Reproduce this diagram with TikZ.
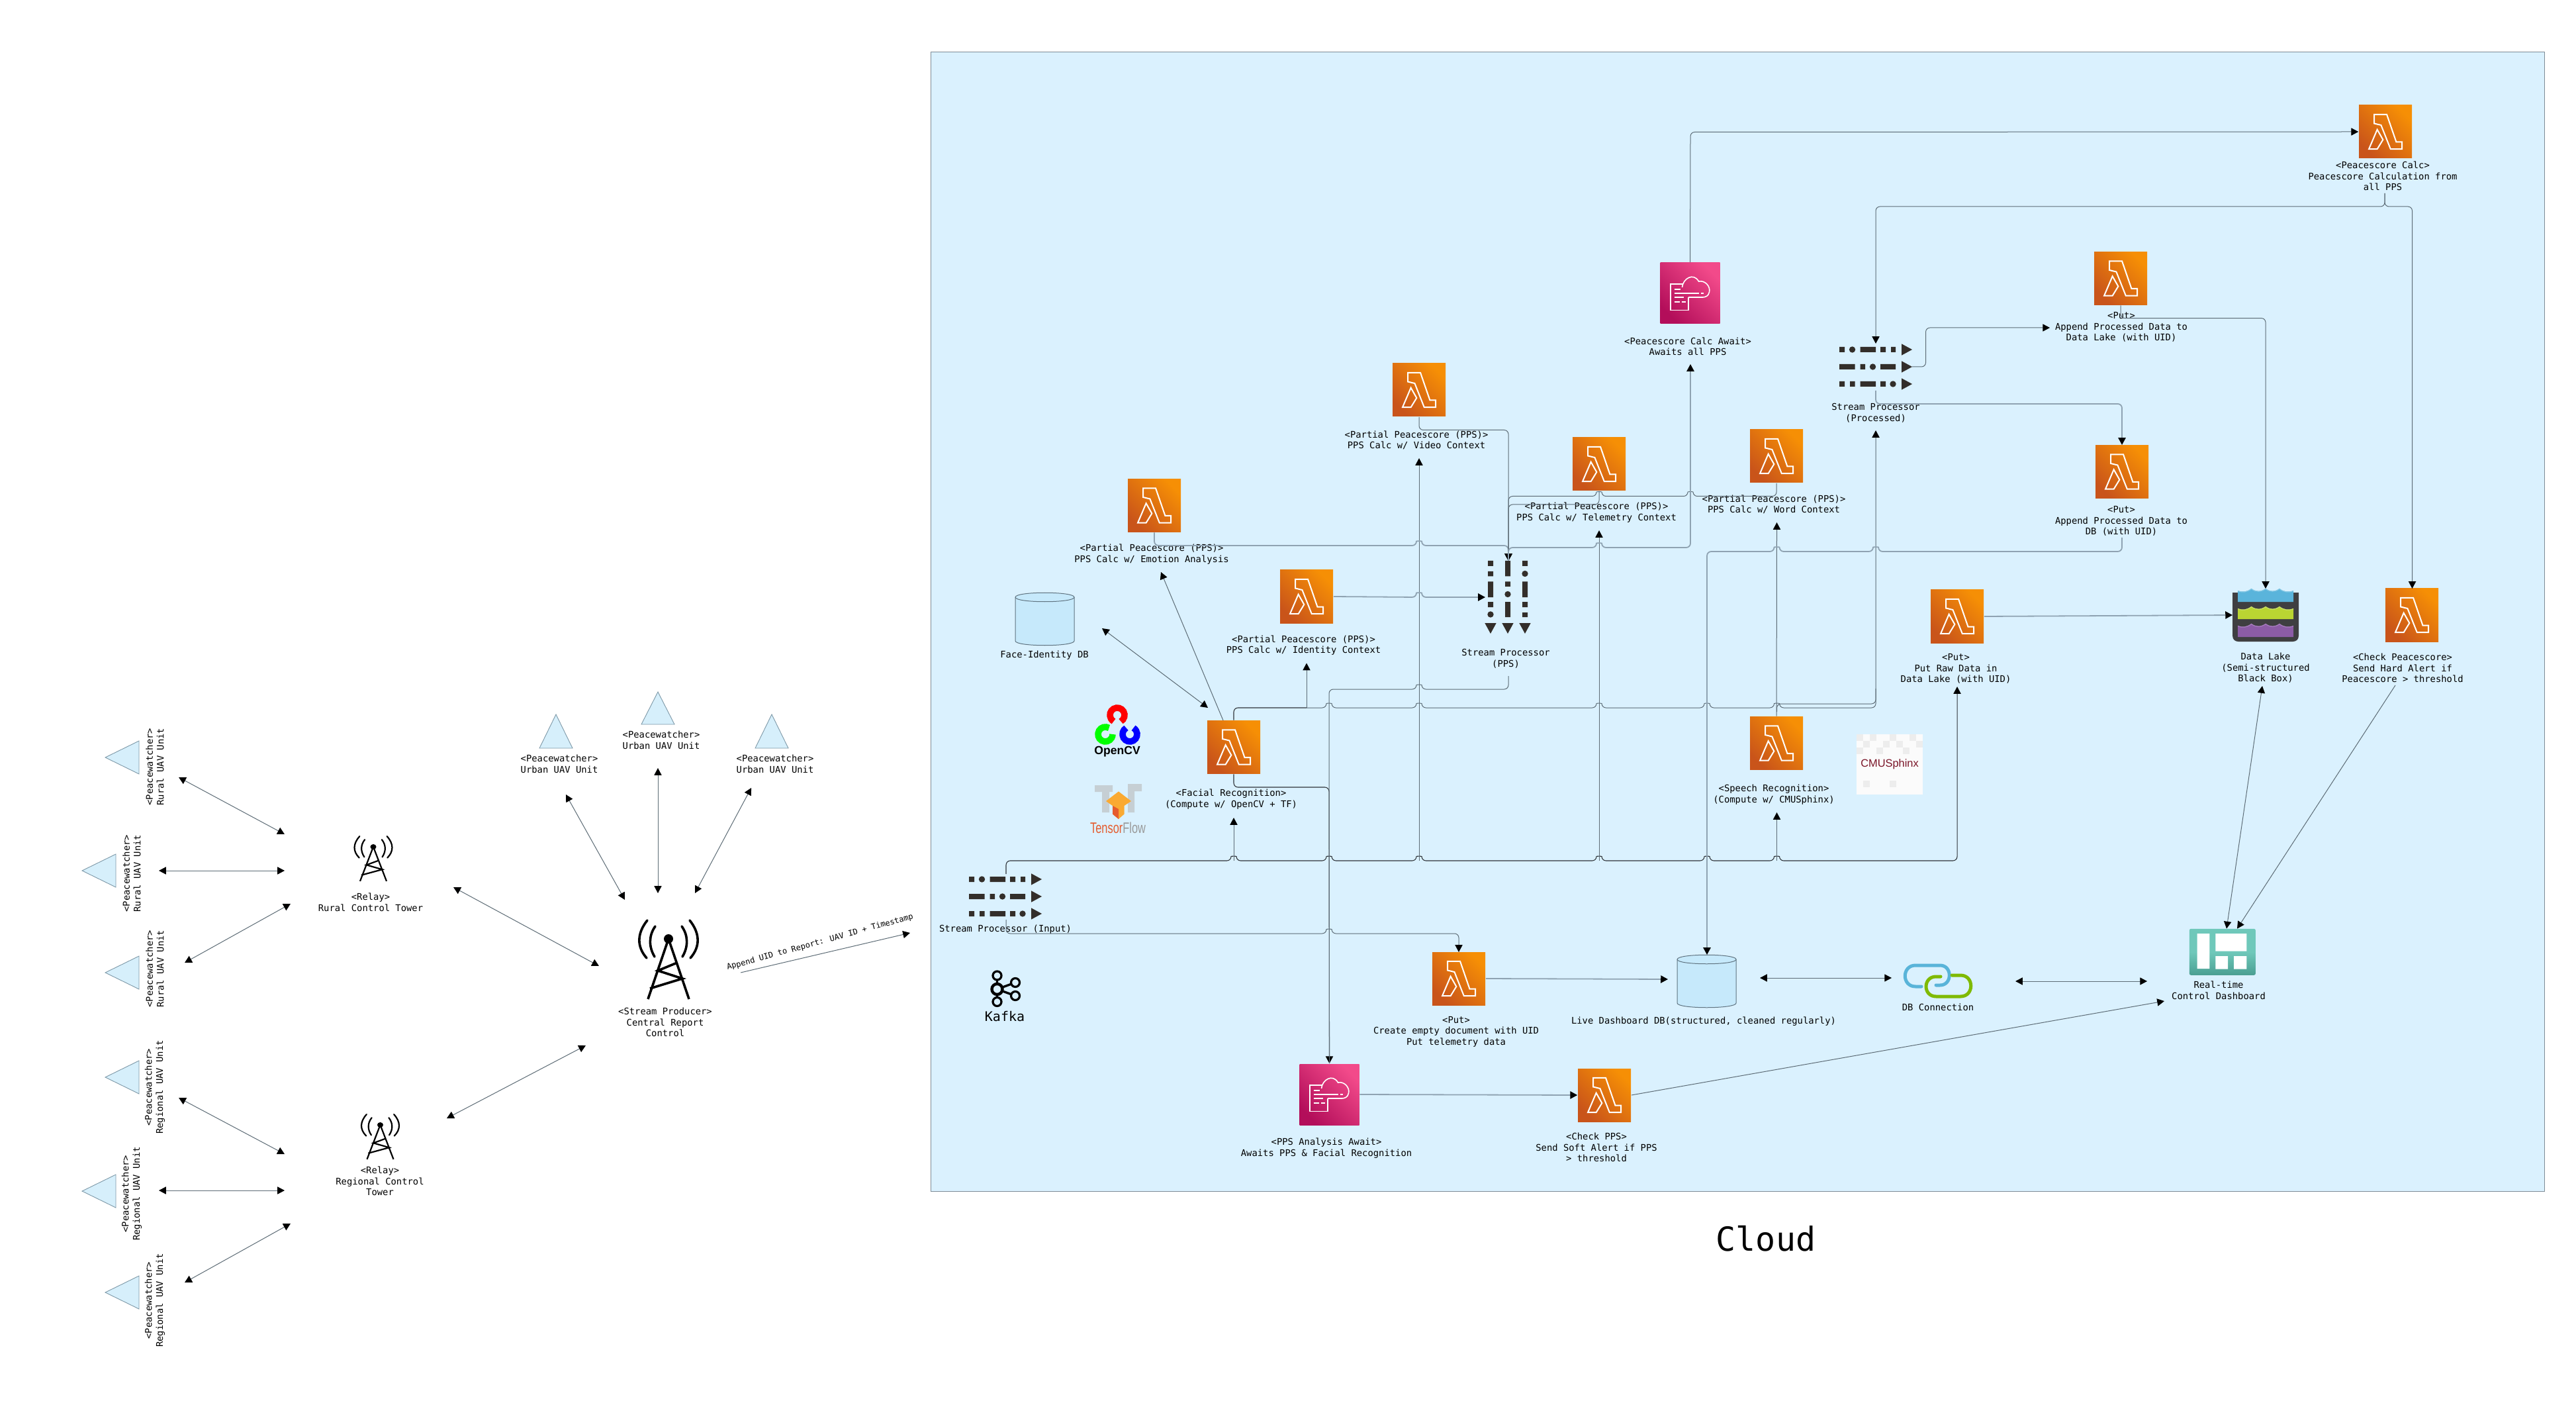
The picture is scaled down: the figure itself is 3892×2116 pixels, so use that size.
\documentclass[tikz,border=0pt]{standalone}
\usepackage{fontspec}
\usepackage{graphicx}
\usetikzlibrary{arrows.meta}
\setmainfont{Liberation Sans}
\newfontfamily\monof{DejaVu Sans Mono}
\newcommand{\labfont}{\monof\fontsize{3.46pt}{4.15pt}\selectfont}
\definecolor{cloudbg}{HTML}{DAF1FE}
\definecolor{cloudln}{HTML}{7E8C96}
\definecolor{cylfill}{HTML}{C6E9FB}
\definecolor{cylln}{HTML}{5F7380}
\definecolor{trifill}{HTML}{D6EFFB}
\definecolor{triln}{HTML}{7C97A6}
\definecolor{lineD}{HTML}{2E3338}
\definecolor{lineM}{HTML}{5D6C76}
\definecolor{lineB}{HTML}{8FA3B2}
\definecolor{lamA}{HTML}{F68F05}
\definecolor{lamB}{HTML}{C9541A}
\definecolor{pinkA}{HTML}{F24A8A}
\definecolor{pinkB}{HTML}{B30E5A}
\definecolor{strm}{HTML}{332E2A}
\definecolor{lakeD}{HTML}{3F3F41}
\definecolor{lakeB}{HTML}{5AB4DB}
\definecolor{lakeG}{HTML}{BAD532}
\definecolor{lakeP}{HTML}{8C5CA6}
\definecolor{lakeGl}{HTML}{C8DE6A}
\definecolor{lakePl}{HTML}{A77FBE}
\definecolor{lakeBl}{HTML}{83C7E4}
\definecolor{dashA}{HTML}{6FC8BA}
\definecolor{dashB}{HTML}{4A9F92}
\definecolor{linkB}{HTML}{59B4D9}
\definecolor{linkG}{HTML}{7FBA00}
\definecolor{tfGrey}{HTML}{C6CFD4}
\definecolor{tfOr}{HTML}{FAAA32}
\definecolor{tfDk}{HTML}{E55B2D}
\definecolor{tfTxt}{HTML}{999999}
\definecolor{cmuRed}{HTML}{7A1528}
\definecolor{cmuBg}{HTML}{FBFBFB}
\definecolor{cmuPx}{HTML}{EDEDED}
\newcommand{\hopR}[2]{-- (#1-4,#2) .. controls (#1-4,#2-7) and (#1+4,#2-7) .. (#1+4,#2)}
\newcommand{\hopL}[2]{-- (#1+4,#2) .. controls (#1+4,#2-7) and (#1-4,#2-7) .. (#1-4,#2)}
\newcommand{\lakewave}[1]{(3381,#1+3) .. controls (3388,#1+6) and (3395,#1+5) .. (3401.5,#1) .. controls (3408,#1+5) and (3416,#1+5) .. (3423,#1) .. controls (3430,#1+5) and (3437,#1+5) .. (3444,#1) .. controls (3450,#1+5) and (3458,#1+6) .. (3465,#1+3)}
\newcommand{\dbcyl}[4]{% left right top bottom
  \path[fill=cylfill,draw=cylln,line width=.25pt]
   (#1,#3+7) .. controls (#1,#3-2) and (#2,#3-2) .. (#2,#3+7) -- (#2,#4-7)
   .. controls (#2,#4+2) and (#1,#4+2) .. (#1,#4-7) -- cycle;
  \path[draw=cylln,line width=.25pt]
   (#1,#3+7) .. controls (#1,#3+16) and (#2,#3+16) .. (#2,#3+7);}
% icon nodes: name, centre x, centre y
\newcommand{\lamicon}[3]{%
  \node[lam] (#1) at (#2,#3) {};
  \begin{scope}[shift={(#2-40,#3-40)}]
    \draw[draw=white,line width=.5pt] (23,13.8) -- (42,13.8) -- (56.4,55.5) -- (65,55.5) -- (65,66.2) -- (47.8,66.2) -- (33.4,30) -- (23,27.5) -- cycle;
    \draw[draw=white,line width=.5pt] (27.6,36.7) -- (36.3,52) -- (27.6,66.2) -- (15,66.2) -- cycle;
  \end{scope}}
\newcommand{\pinkicon}[3]{%
  \node[pink] (#1) at (#2,#3) {};
  \begin{scope}[shift={(#2-45,#3-46)},draw=white,line width=.4pt]
    \draw (33,32) -- (15.5,32) -- (15.5,71.5) -- (42.5,71.5) -- (42.5,52);
    \draw (33,37) .. controls (34,24) and (50,14) .. (58,28) .. controls (68,26) and (76,36) .. (74,44) .. controls (73,50) and (68,52) .. (64,52) -- (42.5,52);
    \draw (21,46) -- (58,46) (61,46) -- (65,46);
    \draw (21,40) -- (30,40) (21,52) -- (35,52) (21,59) -- (29,59) (32,59) -- (38,59);
  \end{scope}}
\tikzset{
  every node/.style={inner sep=0pt},
  lab/.style={font=\labfont,align=center,text=black},
  tipS/.tip={Triangle[length=2.7pt,width=2.8pt,black]},
  connD/.style={draw=lineD,line width=.27pt,rounded corners=1.6pt},
  connM/.style={draw=lineM,line width=.25pt,rounded corners=1.6pt},
  connB/.style={draw=lineB,line width=.45pt,rounded corners=1.6pt},
  lam/.style={rectangle,minimum width=20pt,minimum height=20pt,top color=lamA,bottom color=lamB,shading angle=-45},
  pink/.style={rectangle,minimum width=22.5pt,minimum height=23pt,top color=pinkA,bottom color=pinkB,shading angle=-45},
  stream/.pic={
    \fill[strm] (0,-30) rectangle (8,-22) (31.5,-30) rectangle (55,-22) (62,-30) rectangle (70,-22) (78,-30) rectangle (85,-22);
    \fill[strm] (19.5,-26) circle[radius=4.7];
    \fill[strm] (94,-34.7) -- (110,-26) -- (94,-17.3) -- cycle;
    \fill[strm] (0,-4) rectangle (23.5,4) (31.5,-4) rectangle (39,4) (62,-4) rectangle (85,4);
    \fill[strm] (50.5,0) circle[radius=4.7];
    \fill[strm] (94,-8.7) -- (110,0) -- (94,8.7) -- cycle;
    \fill[strm] (0,22) rectangle (8,30) (16,22) rectangle (23.5,30) (31.5,22) rectangle (55,30) (62,22) rectangle (70,30);
    \fill[strm] (81,26) circle[radius=4.7];
    \fill[strm] (94,17.3) -- (110,26) -- (94,34.7) -- cycle;
  },
  tower/.pic={
    \fill (0,0) circle[radius=7];
    \draw[line cap=round] (-20,-19) .. controls (-30,-5) and (-30,12) .. (-21,27);
    \draw[line cap=round] (20,-19) .. controls (30,-5) and (30,12) .. (21,27);
    \draw[line cap=round] (-32,-28) .. controls (-48,-8) and (-48,12) .. (-33,29);
    \draw[line cap=round] (32,-28) .. controls (48,-8) and (48,12) .. (33,29);
    \draw (0,0) -- (-31,91) (0,0) -- (31,91);
    \draw (13,36) -- (-16,48) -- (21,60) -- (-28,75);
  },
  uavtri/.style={fill=trifill,draw=triln,line width=.22pt},
}
\begin{document}
\begin{tikzpicture}[x=0.25pt,y=-0.25pt]
\useasboundingbox (0,0) rectangle (3892,2116);
\fill[white] (0,0) rectangle (3892,2116);
% ---------- cloud
\node[rectangle,fill=cloudbg,draw=cloudln,line width=.3pt,minimum width=609.5pt,minimum height=430.25pt,anchor=north west] (cloud) at (1406,78) {};
\node[font=\monof\fontsize{12.5pt}{14pt}\selectfont] (cloudlab) at (2668,1871) {Cloud};
% ---------- left side triangles
\draw[uavtri] (159,1144) -- (210,1119) -- (210,1169) -- cycle;
\draw[uavtri] (124,1315) -- (175,1290) -- (175,1340) -- cycle;
\draw[uavtri] (159,1469) -- (210,1444) -- (210,1494) -- cycle;
\draw[uavtri] (159,1627) -- (210,1602) -- (210,1652) -- cycle;
\draw[uavtri] (124,1799) -- (175,1774) -- (175,1824) -- cycle;
\draw[uavtri] (159,1952) -- (210,1927) -- (210,1977) -- cycle;
\draw[uavtri] (840,1079) -- (865,1130) -- (815,1130) -- cycle;
\draw[uavtri] (994,1045) -- (1019,1094) -- (969,1094) -- cycle;
\draw[uavtri] (1166,1079) -- (1191,1130) -- (1141,1130) -- cycle;
\node[lab,rotate=90] (r1) at (234,1158) {<Peacewatcher>\\Rural UAV Unit};
\node[lab,rotate=90] (r2) at (199,1319) {<Peacewatcher>\\Rural UAV Unit};
\node[lab,rotate=90] (r3) at (234,1463) {<Peacewatcher>\\Rural UAV Unit};
\node[lab,rotate=90] (g1) at (234,1642) {<Peacewatcher>\\Regional UAV Unit};
\node[lab,rotate=90] (g2) at (199,1803) {<Peacewatcher>\\Regional UAV Unit};
\node[lab,rotate=90] (g3) at (234,1964) {<Peacewatcher>\\Regional UAV Unit};
\node[lab] (u1) at (845,1154) {<Peacewatcher>\\Urban UAV Unit};
\node[lab] (u2) at (999,1118) {<Peacewatcher>\\Urban UAV Unit};
\node[lab] (u3) at (1171,1154) {<Peacewatcher>\\Urban UAV Unit};
% towers
\pic[scale=1,line width=.9pt] at (1010,1418) {tower};
\pic[xscale=.645,yscale=.57,line width=.55pt] at (564,1279) {tower};
\pic[xscale=.645,yscale=.57,line width=.55pt] at (574.5,1699) {tower};
\node[lab] (ltr) at (560,1363) {<Relay>\\Rural Control Tower};
\node[lab] (ltg) at (574,1784) {<Relay>\\Regional Control\\Tower};
\node[lab] (ltc) at (1005,1544) {<Stream Producer>\\Central Report\\Control};
% left arrows
\coordinate (a1a) at (270,1174); \coordinate (a1b) at (430,1260);
\coordinate (a2a) at (240,1315); \coordinate (a2b) at (430,1315);
\coordinate (a3a) at (439,1365); \coordinate (a3b) at (279,1454);
\coordinate (a4a) at (685,1340); \coordinate (a4b) at (905,1459);
\coordinate (a5a) at (270,1658); \coordinate (a5b) at (430,1743);
\coordinate (a6a) at (240,1798); \coordinate (a6b) at (430,1798);
\coordinate (a7a) at (439,1848); \coordinate (a7b) at (279,1937);
\coordinate (a8a) at (675,1689); \coordinate (a8b) at (885,1579);
\coordinate (a9a) at (855,1200); \coordinate (a9b) at (944,1359);
\coordinate (a10a) at (994,1160); \coordinate (a10b) at (994,1349);
\coordinate (a11a) at (1135,1190); \coordinate (a11b) at (1050,1349);
\coordinate (a12a) at (1119,1469); \coordinate (a12b) at (1375,1409);
\foreach \p/\q in {a1a/a1b,a2a/a2b,a3a/a3b,a4a/a4b,a5a/a5b,a6a/a6b,a7a/a7b,a8a/a8b,a9a/a9b,a10a/a10b,a11a/a11b}
  \draw[connM,tipS-tipS] (\p) -- (\q);
\draw[connM,-tipS] (a12a) -- (a12b);
\node[font=\monof\fontsize{3pt}{3.6pt}\selectfont,rotate=15.4] (lapp) at (1239,1423) {Append UID to Report: UAV ID + Timestamp};
% ---------- icons
\lamicon{iEmo}{1744}{763.5}
\lamicon{iVid}{2144}{589}
\lamicon{iIde}{1974}{901}
\lamicon{iFac}{1864}{1128.5}
\lamicon{iTel}{2416}{701}
\lamicon{iWor}{2684}{689}
\lamicon{iCal}{3604}{199}
\lamicon{iPL}{3204}{420.5}
\lamicon{iPD}{3206}{712.5}
\lamicon{iRaw}{2957}{931}
\lamicon{iSpe}{2684}{1122.5}
\lamicon{iChk}{3644}{929}
\lamicon{iEmp}{2204}{1478}
\lamicon{iCPP}{2424}{1654}
\pinkicon{iAw1}{2553.5}{443}
\pinkicon{iAw2}{2008.5}{1653}
% labels
\node[lab] (lEmo) at (1740,837) {<Partial Peacescore (PPS)>\\PPS Calc w/ Emotion Analysis};
\node[lab] (lVid) at (2140,665) {<Partial Peacescore (PPS)>\\PPS Calc w/ Video Context};
\node[lab] (lIde) at (1969.5,974.5) {<Partial Peacescore (PPS)>\\PPS Calc w/ Identity Context};
\node[lab] (lFac) at (1860,1207) {<Facial Recognition>\\(Compute w/ OpenCV + TF)};
\node[lab] (lTel) at (2412,774) {<Partial Peacescore (PPS)>\\PPS Calc w/ Telemetry Context};
\node[lab] (lWor) at (2680,762) {<Partial Peacescore (PPS)>\\PPS Calc w/ Word Context};
\node[lab] (lAw1) at (2550,523.5) {<Peacescore Calc Await>\\Awaits all PPS};
\node[lab] (lPro) at (2834,623.5) {Stream Processor\\(Processed)};
\node[lab] (lPPS) at (2275,995) {Stream Processor\\(PPS)};
\node[lab] (lInp) at (1519,1404) {Stream Processor (Input)};
\node[lab] (lCal) at (3600,266) {<Peacescore Calc>\\Peacescore Calculation from\\all PPS};
\node[lab] (lPL) at (3205,494) {<Put>\\Append Processed Data to\\Data Lake (with UID)};
\node[lab] (lPD) at (3205,787) {<Put>\\Append Processed Data to\\DB (with UID)};
\node[lab] (lRaw) at (2955,1010) {<Put>\\Put Raw Data in\\Data Lake (with UID)};
\node[lab] (lSpe) at (2680,1200) {<Speech Recognition>\\(Compute w/ CMUSphinx)};
\node[lab] (lCPP) at (2412,1733) {<Check PPS>\\Send Soft Alert if PPS\\> threshold};
\node[lab] (lChk) at (3630,1009) {<Check Peacescore>\\Send Hard Alert if\\Peacescore > threshold};
\node[lab] (lEmp) at (2200,1558) {<Put>\\Create empty document with UID\\Put telemetry data};
\node[lab] (lAw2) at (2004,1734) {<PPS Analysis Await>\\Awaits PPS \& Facial Recognition};
\node[lab] (lLDB) at (2574,1543) {Live Dashboard DB(structured, cleaned regularly)};
\node[lab] (lCon) at (2928,1521) {DB Connection};
\node[lab] (lDas) at (3352,1496) {Real-time\\Control Dashboard};
\node[lab] (lLak) at (3423,1009) {Data Lake\\(Semi-structured\\Black Box)};
\node[lab] (lFDB) at (1578,990) {Face-Identity DB};
% databases
\dbcyl{1534}{1623}{895}{975}
\dbcyl{2534}{2623}{1442}{1522}
% streams
\pic at (1464,1354) {stream};
\pic at (2779,554) {stream};
\pic[rotate=-90] at (2278,847) {stream};
% data lake
\fill[lakeD] (3373,895) -- (3373,960) .. controls (3373,966) and (3377,969) .. (3382,969) -- (3464,969) .. controls (3469,969) and (3473,966) .. (3473,960) -- (3473,895) -- cycle;
\fill[lakeB] \lakewave{889} -- (3465,909) -- (3381,909) -- cycle;
\fill[lakeG] \lakewave{916} -- (3465,935) -- (3381,935) -- cycle;
\fill[lakeP] \lakewave{942} -- (3465,962) -- (3381,962) -- cycle;
\draw[lakeBl,line width=.3pt] \lakewave{889.5};
\draw[lakeGl,line width=.3pt] \lakewave{916.5};
\draw[lakePl,line width=.3pt] \lakewave{942.5};
% dashboard
\node[rectangle,rounded corners=.6pt,minimum width=25pt,minimum height=17.5pt,top color=dashA,bottom color=dashB,middle color=dashA,anchor=north west] (iDash) at (3307,1402) {};
\fill[white] (3319.6,1410) rectangle (3338.3,1463) (3347.4,1410) rectangle (3394.4,1436.5) (3347.4,1444) rectangle (3366,1463.7) (3375,1444) rectangle (3394.4,1463.7);
% db connection
\draw[line width=1.25pt,linkB,line cap=round] (2903,1490) -- (2894,1490) .. controls (2873,1490) and (2873,1458) .. (2894,1458) -- (2931,1458) .. controls (2950,1458) and (2950,1488) .. (2931,1488) -- (2925,1488);
\draw[line width=1.25pt,linkG,line cap=round] (2949,1473) -- (2962,1473) .. controls (2983,1473) and (2983,1505) .. (2962,1505) -- (2925,1505) .. controls (2905,1505) and (2905,1475) .. (2925,1475) -- (2932,1475);
% cmusphinx
\fill[cmuBg] (2805,1109) rectangle (2905,1200);
\foreach \xx/\yy in {2805/1109,2825/1109,2855/1109,2885/1109,2815/1119,2845/1119,2865/1119,2895/1119,2805/1129,2835/1129,2875/1129,2815/1179,2855/1179}
  \fill[cmuPx] (\xx,\yy) rectangle (\xx+10,\yy+10);
\node[font=\fontsize{4.1pt}{5pt}\selectfont,text=cmuRed] (cmu) at (2855,1154) {CMUSphinx};
% opencv
\begin{scope}[shift={(1688,1080)}]
\draw[line width=2.4pt,color=red] (-60:2.75pt) arc[start angle=-60,end angle=240,radius=2.75pt];
\end{scope}
\begin{scope}[shift={(1670,1109)}]
\draw[line width=2.4pt,color=green] (60:2.75pt) arc[start angle=60,end angle=360,radius=2.75pt];
\end{scope}
\begin{scope}[shift={(1707,1109)}]
\draw[line width=2.4pt,color=blue] (120:2.75pt) arc[start angle=120,end angle=420,radius=2.75pt];
\end{scope}
\node[font=\bfseries\fontsize{4.4pt}{5pt}\selectfont] (ocv) at (1688,1135) {OpenCV};
% tensorflow
\fill[tfGrey] (1654,1186) rectangle (1681,1196) (1665,1196) rectangle (1676,1227) (1704,1184) rectangle (1725,1195) (1704,1195) rectangle (1714,1227);
\fill[tfOr] (1671,1210) -- (1690,1195.4) -- (1709,1210) -- (1698.5,1217) -- (1698.5,1229.6) -- (1690,1237) -- (1681,1229.6) -- (1681,1217) -- cycle;
\fill[tfDk] (1681,1217) -- (1690,1222) -- (1690,1237) -- (1681,1229.6) -- cycle;
\node[font=\fontsize{5.7pt}{6pt}\selectfont] (tf) at (1689,1250) {\scalebox{.72}[1]{{\color{tfDk}Tensor}{\color{tfTxt}Flow}}};
% kafka
\draw[line width=.85pt] (1506.5,1473.5) -- (1506.5,1513) (1506.5,1494) -- (1534,1484) (1506.5,1494) -- (1534,1504);
\foreach \kx/\ky in {1506.5/1473.5,1506.5/1513,1534/1484,1534/1504}
  \filldraw[fill=cloudbg,draw=black,line width=.8pt] (\kx,\ky) circle[radius=6.5];
\filldraw[fill=cloudbg,draw=black,line width=1.1pt] (1506.5,1494) circle[radius=8];
\node[font=\monof\fontsize{5pt}{6pt}\selectfont] (kaf) at (1518,1535) {Kafka};
% ---------- junctions and connector ends
\coordinate (sIn) at (1520,1320);
\coordinate (sInB) at (1520,1389);
\coordinate (sPro) at (2834,590);
\coordinate (sProR) at (2889,554);
\coordinate (sPPS) at (2279,1021);
\coordinate (tPPS) at (2279,847);
\coordinate (tPPSl) at (2244,902);
\coordinate (jF) at (1864,1300);
\coordinate (tF) at (1864,1235);
\coordinate (jV) at (2144,1300);
\coordinate (tV) at (2144,692);
\coordinate (jT) at (2416,1300);
\coordinate (tT) at (2416,801);
\coordinate (jS) at (2684.5,1300);
\coordinate (tS) at (2684.5,1227);
\coordinate (tW) at (2684.5,789);
\coordinate (tRaw) at (2957,1037);
\coordinate (jI) at (1974,1069);
\coordinate (tI) at (1974,1001.5);
\coordinate (tEmoL) at (1754,864);
\coordinate (sFE) at (1848,1088);
\coordinate (fdbA) at (1665,949);
\coordinate (fdbB) at (1825,1069);
\coordinate (tPro) at (2834,650);
\coordinate (tProT) at (2834,519);
\coordinate (tAw1) at (2554,550);
\coordinate (tPD) at (3206,672);
\coordinate (tPL) at (3097,495);
\coordinate (sPD) at (3206,812);
\coordinate (tLD) at (2579,1442);
\coordinate (tLDl) at (2520,1479);
\coordinate (tLak) at (3423,889);
\coordinate (sCal) at (3603,292);
\coordinate (tChk) at (3644.5,889);
\coordinate (tEmp) at (2204,1438);
\coordinate (dA) at (2659,1477);
\coordinate (dB) at (2858,1477);
\coordinate (eA) at (3045,1482);
\coordinate (eB) at (3244,1482);
\coordinate (tDa) at (3270,1512);
\coordinate (lkA) at (3418,1036);
\coordinate (lkB) at (3364,1402.6);
\coordinate (ckA) at (3619,1035);
\coordinate (ckB) at (3380,1402.6);
% ---------- cloud connectors
% input stream, top route
\draw[connD,-tipS] (sIn) -- (1520,1300) \hopR{1864}{1300} \hopR{2008}{1300} \hopR{2144}{1300} \hopR{2416}{1300} \hopR{2579}{1300} \hopR{2684.5}{1300} -- (2957,1300) -- (tRaw);
\draw[connM,-tipS] (jF) -- (tF);
\draw[connM,-tipS] (jV) -- (tV);
\draw[connM,-tipS] (jT) -- (tT);
\draw[connM,-tipS] (jS) -- (tS);
% input stream, lower route
\draw[connM,-tipS] (sInB) -- (1520,1410) \hopR{2008}{1410} -- (2204,1410) -- (tEmp);
% facial recognition
\draw[connD] (iFac.north) -- (1864,1069) -- (jI);
\draw[connM,-tipS] (jI) \hopR{2008}{1069} \hopR{2144}{1069} \hopR{2416}{1069} \hopR{2579}{1069} \hopR{2684.5}{1069} -- (2834,1069) -- (tPro);
\draw[connM,-tipS] (jI) -- (tI);
\draw[connD,-tipS] (iFac.south) -- (1864,1189) -- (2008,1189) -- (iAw2.north);
\draw[connM,-tipS] (sFE) -- (tEmoL);
\draw[connM,tipS-tipS] (fdbA) -- (fdbB);
\draw[connM] (sPPS) -- (2279,1041) \hopL{2144}{1041} -- (2008,1041) -- (iAw2.north);
% speech
\draw[connM,-tipS] (iSpe.north) -- (tW);
\draw[connM] (2684.5,1075) -- (2684.5,1063) -- (2834,1063) -- (2834,1040);
% partial peacescores to PPS stream
\draw[connB,-tipS] (iEmo.south) -- (1744,824) \hopR{2144}{824} -- (2279,824) -- (tPPS);
\draw[connM,-tipS] (iVid.south) -- (2144,649.5) -- (2279,649.5) -- (tPPS);
\draw[connB,-tipS] (iIde.east) \hopR{2144}{902} -- (tPPSl);
\draw[connM,-tipS] (iTel.south) -- (2416,762) -- (2279,762) -- (tPPS);
\draw[connM,-tipS] (iWor.south) -- (2684,749.5) \hopL{2554}{749.5} \hopL{2416}{749.5} -- (2279,749.5) -- (tPPS);
% PPS stream to calc await, and on to calc
\draw[connB,-tipS] (tPPS) -- (2279,827) \hopR{2416}{827} -- (2554,827) -- (tAw1);
\draw[connM,-tipS] (iAw1.north) -- (2554,199.5) -- (iCal.west);
% calc out
\draw[connM,-tipS] (sCal) -- (3603,312) -- (2834,312) -- (tProT);
\draw[connM,-tipS] (sCal) -- (3603,312) -- (3644.5,312) -- (tChk);
% processed stream outs
\draw[connM,-tipS] (sProR) -- (2909.5,554) -- (2909.5,495) -- (tPL);
\draw[connB,-tipS] (sPro) -- (2834,610) -- (3206,610) -- (tPD);
\draw[connM,-tipS] (iPL.south) -- (3204,480.6) -- (3423,480.6) -- (tLak);
\draw[connB,-tipS] (sPD) -- (3206,833) \hopL{2834}{833} \hopL{2684.5}{833} -- (2579,833) -- (tLD);
% bottom
\draw[connB,-tipS] (iEmp.east) -- (tLDl);
\draw[connB,-tipS] (iAw2.east) -- (iCPP.west);
\draw[connB,-tipS] (iRaw.east) -- (3373,929);
\draw[connM,tipS-tipS] (dA) -- (dB);
\draw[connM,tipS-tipS] (eA) -- (eB);
\draw[connM,-tipS] (iCPP.east) -- (tDa);
\draw[connM,tipS-tipS] (lkA) -- (lkB);
\draw[connM,-tipS] (ckA) -- (ckB);
\end{tikzpicture}
\end{document}
